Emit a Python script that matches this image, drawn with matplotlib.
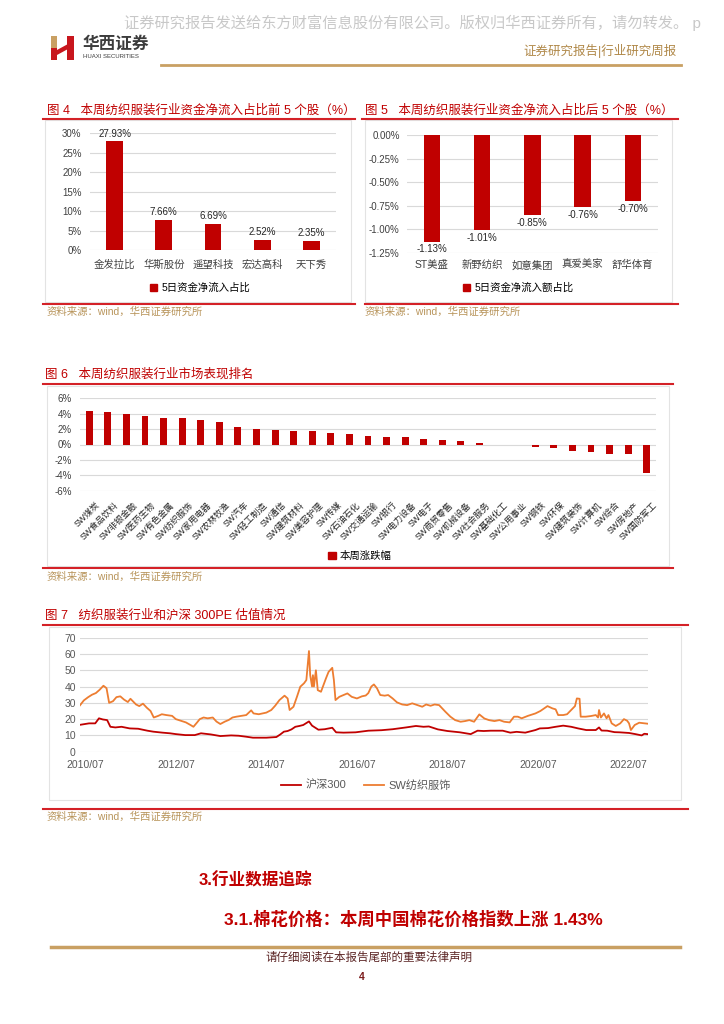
import matplotlib
matplotlib.use("Agg")
import matplotlib.pyplot as plt
import matplotlib.patches as mpatches
import matplotlib.transforms as mtransforms
import matplotlib.dates as mdates
from matplotlib.lines import Line2D
import pandas as pd

plt.rcParams['font.family'] = ['Liberation Sans', 'Noto Sans CJK SC', 'DejaVu Sans']

# ---- data ----
top5_names = ['金发拉比', '华斯股份', '遥望科技', '宏达高科', '天下秀']
top5_vals = [27.93, 7.66, 6.69, 2.52, 2.35]

bot5_names = ['ST美盛', '新野纺织', '如意集团', '真爱美家', '舒华体育']
bot5_vals = [-1.13, -1.01, -0.85, -0.76, -0.70]

ind_names = ['SW煤炭', 'SW食品饮料', 'SW非银金融', 'SW医药生物', 'SW有色金属', 'SW纺织服饰',
             'SW家用电器', 'SW农林牧渔', 'SW汽车', 'SW轻工制造', 'SW通信', 'SW建筑材料',
             'SW美容护理', 'SW传媒', 'SW石油石化', 'SW交通运输', 'SW银行', 'SW电力设备',
             'SW电子', 'SW商贸零售', 'SW机械设备', 'SW社会服务', 'SW基础化工', 'SW公用事业',
             'SW钢铁', 'SW环保', 'SW建筑装饰', 'SW计算机', 'SW综合', 'SW房地产', 'SW国防军工']
ind_chg = [4.3, 4.2, 4.0, 3.65, 3.4, 3.4, 3.15, 2.9, 2.3, 1.95, 1.85, 1.7, 1.7, 1.5, 1.4, 1.05,
           0.95, 0.95, 0.7, 0.52, 0.43, 0.2, -0.12, -0.12, -0.3, -0.5, -0.87, -0.95, -1.2, -1.2, -3.75]

sw_dates = [
    '2010-05-20', '2010-06-20', '2010-07-25', '2010-08-25', '2010-09-25', '2010-10-25', '2010-11-25', '2010-12-20',
    '2011-01-10', '2011-02-10', '2011-03-10', '2011-04-10', '2011-05-10', '2011-06-10', '2011-07-01', '2011-07-20',
    '2011-08-15', '2011-09-10', '2011-10-10', '2011-11-10', '2011-12-10',
    '2012-01-05', '2012-02-10', '2012-03-10', '2012-04-15', '2012-06-01', '2012-07-01', '2012-08-10', '2012-09-20',
    '2012-10-25', '2012-11-20', '2012-12-20',
    '2013-01-10', '2013-02-10', '2013-03-15', '2013-04-25', '2013-05-25', '2013-06-25', '2013-08-01', '2013-09-01',
    '2013-10-01', '2013-11-01', '2013-12-10',
    '2014-01-20', '2014-03-01', '2014-03-20', '2014-05-01', '2014-07-01', '2014-08-10', '2014-09-10', '2014-10-15',
    '2014-11-25', '2014-12-20',
    '2015-01-05', '2015-02-05', '2015-03-05', '2015-04-01', '2015-05-01', '2015-05-20', '2015-06-10', '2015-06-20',
    '2015-07-05', '2015-07-12', '2015-07-20', '2015-08-05', '2015-08-20', '2015-09-15', '2015-10-10', '2015-10-25',
    '2015-11-15', '2015-12-15', '2015-12-28',
    '2016-01-10', '2016-02-10', '2016-03-15', '2016-04-15', '2016-05-20', '2016-07-01', '2016-08-10', '2016-09-10',
    '2016-10-01', '2016-10-25', '2016-11-15', '2016-12-10',
    '2017-01-05', '2017-02-10', '2017-03-10', '2017-04-15', '2017-05-20', '2017-07-01', '2017-08-10', '2017-09-20',
    '2017-11-01', '2017-12-10',
    '2018-01-10', '2018-02-15', '2018-03-20', '2018-04-25', '2018-06-15', '2018-07-25', '2018-09-01', '2018-10-15',
    '2018-11-20', '2018-12-25',
    '2019-02-01', '2019-03-15', '2019-04-25', '2019-06-01', '2019-07-15', '2019-08-25', '2019-10-01', '2019-11-15',
    '2019-12-20',
    '2020-01-20', '2020-02-20', '2020-04-10', '2020-06-10', '2020-07-20', '2020-08-20', '2020-09-15', '2020-10-25',
    '2020-11-20', '2020-12-10',
    '2021-01-20', '2021-02-20', '2021-03-25', '2021-04-25', '2021-05-10', '2021-06-01', '2021-06-10', '2021-07-20',
    '2021-09-01', '2021-10-10', '2021-10-28', '2021-11-05', '2021-11-20', '2021-12-15',
    '2022-01-05', '2022-01-20', '2022-02-15', '2022-03-20', '2022-04-25', '2022-05-25', '2022-06-20', '2022-07-05',
    '2022-07-20', '2022-08-20', '2022-09-25', '2022-11-05', '2022-12-01',
]
sw_pe = [
    28.5, 31.5, 33.5, 35, 36, 38, 40.5, 39,
    30, 31, 33.5, 34, 32, 30.5, 32.5, 31, 29, 28, 29.5, 27, 25,
    21, 22, 23, 22.5, 22, 20, 19, 18, 16.5, 15.3, 18,
    20, 21, 20.5, 21, 18.5, 17, 18.5, 19.5, 21, 21.5, 22,
    22.5, 25.4, 23.5, 23, 24, 25.6, 28.2, 31.7, 34.4, 32.7,
    25.6, 27.6, 33.7, 39.9, 42, 44, 61.8, 47, 40, 47, 40, 50, 37.8, 36.8, 42, 45, 49, 51.5, 44,
    31.7, 33.7, 34.8, 35.8, 33.7, 32.7, 34, 34.5, 36, 40, 41.3, 38.9,
    34.8, 34.4, 34.8, 32.7, 30.3, 29, 28.6, 29.7, 28.6, 27.6,
    29, 28.2, 29, 28.6, 24.5, 21.5, 19.4, 18.4, 18.8, 19.4,
    18.4, 22.9, 20.4, 19.4, 18.8, 19.4, 18.4, 18, 21.5,
    21.5, 20.5, 22, 23.5, 25, 26.6, 28, 26.6, 26, 22.5,
    22.5, 23, 25.6, 28, 32.7, 32.5, 21.5, 21.5, 21.9, 22.5, 21, 25.6, 21, 23.5,
    20.5, 22.5, 17.4, 15.8, 17.4, 20, 19, 17.4, 13.3, 16.4, 17.8, 17.4, 17.2,
]

hs_dates = [
    '2010-05-20', '2010-08-01', '2010-09-20', '2010-10-20', '2010-11-20', '2010-12-25',
    '2011-01-20', '2011-03-01', '2011-04-20', '2011-06-25', '2011-09-01', '2011-11-15',
    '2012-01-01', '2012-03-15', '2012-05-15', '2012-07-01', '2012-09-15', '2012-12-01',
    '2013-01-20', '2013-04-10', '2013-06-25', '2013-09-20', '2013-11-20',
    '2014-01-20', '2014-03-15', '2014-07-01', '2014-09-20', '2014-10-20', '2014-11-20', '2014-12-20',
    '2015-01-20', '2015-02-20', '2015-03-25', '2015-04-25', '2015-06-10', '2015-07-05', '2015-08-25',
    '2015-10-15', '2015-12-15',
    '2016-01-15', '2016-03-15', '2016-06-20', '2016-10-01',
    '2017-01-15', '2017-04-15', '2017-08-01', '2017-10-20', '2017-12-20',
    '2018-02-01', '2018-04-15', '2018-07-01', '2018-10-10',
    '2019-01-05', '2019-03-01', '2019-04-20', '2019-06-15', '2019-09-20', '2019-11-20',
    '2020-01-10', '2020-03-20', '2020-06-10', '2020-07-15', '2020-09-20', '2020-11-20',
    '2021-01-20', '2021-03-25', '2021-05-20', '2021-07-25', '2021-10-10', '2021-11-05', '2021-11-25',
    '2022-01-10', '2022-03-10', '2022-04-20', '2022-07-05', '2022-08-25', '2022-10-15', '2022-11-05', '2022-12-01',
]
hs_pe = [
    16.5, 17.4, 17.4, 20.5, 19.8, 19.4,
    15.3, 14.9, 15.3, 14.3, 14.1, 12.9,
    12.3, 11.7, 11.3, 10.8, 10.2, 10.2,
    11.3, 10.6, 9.6, 10, 9.8,
    9.2, 8.6, 8.6, 9.0, 10.5, 12.3, 12.7,
    13.7, 15.3, 15.8, 16.4, 18.6, 16, 13.5, 13.8, 14.7,
    11.9, 11.7, 11.9, 12.9,
    13.2, 13.8, 14.9, 15.8, 15.3,
    15.5, 13.7, 12.7, 11.9,
    10.8, 12.9, 12.7, 12.9, 12.9, 11.7,
    12.2, 11.7, 13.3, 14.3, 14.5, 15.3,
    16, 15.3, 14.3, 13.3, 13.3, 14.9, 13,
    12.9, 12, 11.9, 11.5, 10.8, 10, 11, 10.8,
]
year_ticks = ['2010-07-01', '2012-07-01', '2014-07-01', '2016-07-01', '2018-07-01', '2020-07-01', '2022-07-01']

# ---- styles ----
RED = '#c00000'
LINE_RED = '#d42127'
ORANGE = '#ed7d31'
GRID = '#d9d9d9'
GOLD = '#c9a063'
SRC = '#b8945a'

W, H = 724, 1024
fig = plt.figure(figsize=(W / 100, H / 100), dpi=100)


def fx(x):
    return x / W


def fy(y):
    return 1 - y / H


def add_ax(left, top, width, height):
    return fig.add_axes([left / W, 1 - (top + height) / H, width / W, height / H])


def ptext(x, y, s, **kw):
    kw.setdefault('va', 'center')
    return fig.text(fx(x), fy(y), s, **kw)


def hline(x0, x1, y, color=LINE_RED, lw=1.5):
    fig.add_artist(Line2D([fx(x0), fx(x1)], [fy(y), fy(y)], color=color, lw=lw))


def box(x0, y0, x1, y1):
    fig.add_artist(mpatches.Rectangle((fx(x0), fy(y1)), (x1 - x0) / W, (y1 - y0) / H,
                                      fill=False, ec='#e3e3e3', lw=0.8))


def poly(pts, color):
    fig.add_artist(mpatches.Polygon([(fx(x), fy(y)) for x, y in pts], closed=True, fc=color, ec='none'))


def style_ax(ax, ypad, color='#404040'):
    for s in ax.spines.values():
        s.set_visible(False)
    ax.yaxis.grid(True, color=GRID, lw=0.8)
    ax.set_axisbelow(True)
    ax.tick_params(length=0, labelsize=7, colors=color)
    ax.tick_params(axis='y', pad=ypad)


def red_legend(ax, label, cx, cy):
    ax.legend(handles=[mpatches.Patch(color=RED, label=label)], loc='center',
              bbox_to_anchor=(fx(cx), fy(cy)), bbox_transform=fig.transFigure, frameon=False,
              fontsize=7.5, handlelength=0.7, handleheight=0.7, handletextpad=0.4)


# ---- page header ----
ptext(124, 23, '证券研究报告发送给东方财富信息股份有限公司。版权归华西证券所有，请勿转发。 p',
      fontsize=11, color='#c8c8c8')
poly([(51, 36), (57, 36), (57, 48), (51, 48)], '#c9a063')
poly([(51, 48), (57, 48), (57, 60), (51, 60)], '#c8161d')
poly([(57, 50), (68, 44), (68, 49), (57, 55)], '#c8161d')
poly([(67, 36), (74, 36), (74, 60), (67, 60)], '#c8161d')
ptext(83, 44, '华西证券', fontsize=12, fontweight='bold', color='#3c3c3c')
ptext(83, 57, 'HUAXI SECURITIES', fontsize=4.3, color='#3c3c3c')
ptext(677, 51, '证券研究报告|行业研究周报', ha='right', fontsize=9, color='#b08848')
hline(161, 681, 65, GOLD, 2)

# ---- fig 4 ----
ptext(47, 111, '图 4   本周纺织服装行业资金净流入占比前 5 个股（%）', fontsize=9, color=RED)
hline(43, 355, 118.5)
box(45, 120, 351, 302)
hline(43, 355, 304)
ptext(47, 312, '资料来源：wind，华西证券研究所', fontsize=7.5, color=SRC)

ax4 = add_ax(90, 133.3, 246, 116.7)
ax4.bar(range(len(top5_vals)), top5_vals, width=0.34, color=RED)
ax4.set_xlim(-0.5, 4.5)
ax4.set_ylim(0, 30)
ax4.set_yticks(range(0, 31, 5))
ax4.set_yticklabels([f'{v}%' for v in range(0, 31, 5)])
ax4.set_xticks(range(len(top5_names)))
ax4.set_xticklabels(top5_names)
style_ax(ax4, 6)
ax4.tick_params(axis='x', labelsize=7.5, pad=7)
for i, v in enumerate(top5_vals):
    ax4.annotate(f'{v:.2f}%', (i, v), xytext=(0, 2), textcoords='offset points',
                 ha='center', va='bottom', fontsize=7, color='#262626')
red_legend(ax4, '5日资金净流入占比', 200, 288)

# ---- fig 5 ----
ptext(365, 111, '图 5   本周纺织服装行业资金净流入占比后 5 个股（%）', fontsize=9, color=RED)
hline(362, 678, 118.5)
box(365, 120, 672, 302)
hline(365, 678, 304)
ptext(365, 312, '资料来源：wind，华西证券研究所', fontsize=7.5, color=SRC)

ax5 = add_ax(406.7, 135, 251.3, 118)
ax5.bar(range(len(bot5_vals)), bot5_vals, width=0.33, color=RED)
ax5.set_xlim(-0.5, 4.5)
ax5.set_ylim(-1.25, 0)
yt5 = [0, -0.25, -0.5, -0.75, -1.0, -1.25]
ax5.set_yticks(yt5)
ax5.set_yticklabels(['0.00%'] + [f'{v:.2f}%' for v in yt5[1:]])
ax5.set_xticks(range(len(bot5_names)))
ax5.set_xticklabels(bot5_names)
style_ax(ax5, 5)
ax5.tick_params(axis='x', labelsize=7.5, pad=5)
for i, v in enumerate(bot5_vals):
    ax5.annotate(f'{v:.2f}%', (i, v), xytext=(0, -2), textcoords='offset points',
                 ha='center', va='top', fontsize=7, color='#262626')
red_legend(ax5, '5日资金净流入额占比', 518, 288)

# ---- fig 6 ----
ptext(45, 374, '图 6   本周纺织服装行业市场表现排名', fontsize=9, color=RED)
hline(43, 673, 384)
box(47, 386, 669, 566)
hline(43, 673, 568)
ptext(47, 577, '资料来源：wind，华西证券研究所', fontsize=7.5, color=SRC)

ax6 = add_ax(80, 398.3, 576, 92.4)
ax6.bar(range(len(ind_chg)), ind_chg, width=0.37, color=RED)
ax6.set_xlim(-0.5, len(ind_chg) - 0.5)
ax6.set_ylim(-6, 6)
ax6.set_yticks(range(-6, 7, 2))
ax6.set_yticklabels([f'{v}%' for v in range(-6, 7, 2)])
ax6.set_xticks(range(len(ind_names)))
ax6.set_xticklabels(ind_names, rotation=45, ha='right', va='top', rotation_mode='anchor')
style_ax(ax6, 6)
ax6.tick_params(axis='x', labelsize=6.3, pad=7, colors='#262626')
shift = mtransforms.ScaledTranslation(0.06, 0, fig.dpi_scale_trans)
for lab in ax6.get_xticklabels():
    lab.set_transform(lab.get_transform() + shift)
red_legend(ax6, '本周涨跌幅', 360, 556)

# ---- fig 7 ----
ptext(45, 615, '图 7   纺织服装行业和沪深 300PE 估值情况', fontsize=9, color=RED)
hline(43, 688, 625)
box(49, 627, 681, 800)
hline(43, 688, 809)
ptext(47, 817, '资料来源：wind，华西证券研究所', fontsize=7.5, color=SRC)

ax7 = add_ax(80, 637.7, 568, 114)
ax7.plot(pd.to_datetime(hs_dates), hs_pe, color=RED, lw=1.3, label='沪深300')
ax7.plot(pd.to_datetime(sw_dates), sw_pe, color=ORANGE, lw=1.3, label='SW纺织服饰')
ax7.set_xlim(pd.Timestamp('2010-05-20'), pd.Timestamp('2022-12-05'))
ax7.set_ylim(0, 70)
ax7.set_yticks(range(0, 71, 10))
ax7.set_xticks(pd.to_datetime(year_ticks))
ax7.xaxis.set_major_formatter(mdates.DateFormatter('%Y/%m'))
style_ax(ax7, 3, color='#595959')
ax7.tick_params(labelsize=7.5)
ax7.tick_params(axis='x', pad=6)
ax7.legend(loc='center', bbox_to_anchor=(fx(366), fy(785)), bbox_transform=fig.transFigure,
           ncol=2, frameon=False, fontsize=8, handlelength=1.8, columnspacing=1.6,
           handletextpad=0.4, labelcolor='#595959')

# ---- section headings and footer ----
ptext(199, 880, '3.行业数据追踪', fontsize=12, fontweight='bold', color=RED)
ptext(224, 919, '3.1.棉花价格：本周中国棉花价格指数上涨 1.43%', fontsize=12.5, fontweight='bold', color=RED)
hline(51, 680, 947, GOLD, 2.5)
ptext(369, 958, '请仔细阅读在本报告尾部的重要法律声明', ha='center', fontsize=8.3, color='#5a2323')
ptext(362, 977, '4', ha='center', fontsize=7.5, fontweight='bold', color='#7a1a1a')

fig.savefig('out.png', dpi=100)
